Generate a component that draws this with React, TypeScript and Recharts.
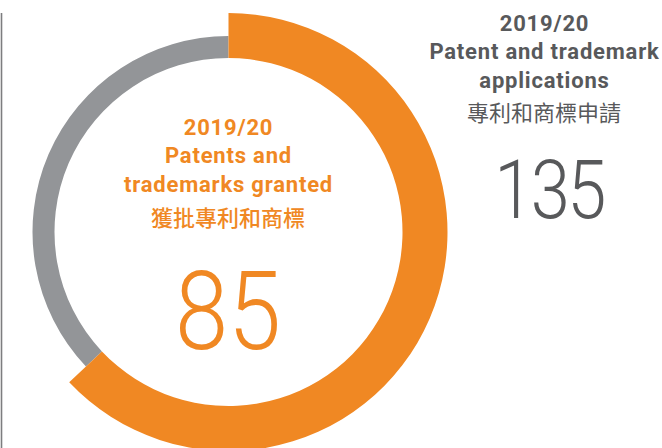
import { PieChart, Pie, Cell } from 'recharts';

const granted = 85;
const applications = 135;
const segmentNames = ['Granted', 'Not granted'];
const segmentValues = [granted, applications - granted];

const grantedLines = ['2019/20', 'Patents and', 'trademarks granted'];
const grantedZh = '獲批專利和商標';
const appLines = ['2019/20', 'Patent and trademark', 'applications'];
const appZh = '專利和商標申請';

const ORANGE = '#F08823';
const GREY = '#939598';
const TEXT_GREY = '#58595B';

const data = segmentNames.map((name, i) => ({ name, value: segmentValues[i] }));

const W = 662;
const H = 448;
const CX = 228.5;
const CY = 232;

export default function App() {
  return (
    <div style={{ position: 'absolute', left: 0, top: 0, width: W, height: H, background: '#fff' }}>
      <PieChart width={W} height={H} margin={{ top: 0, right: 0, bottom: 0, left: 0 }}>
        <Pie
          data={data}
          dataKey="value"
          cx={CX}
          cy={CY}
          innerRadius={174}
          outerRadius={196}
          startAngle={90}
          endAngle={-270}
          stroke="none"
          isAnimationActive={false}
        >
          <Cell fill="transparent" />
          <Cell fill={GREY} />
        </Pie>
        <Pie
          data={data}
          dataKey="value"
          cx={CX}
          cy={CY}
          innerRadius={174}
          outerRadius={219}
          startAngle={90}
          endAngle={-270}
          stroke="none"
          isAnimationActive={false}
        >
          <Cell fill={ORANGE} />
          <Cell fill="transparent" />
        </Pie>
      </PieChart>
      <svg width={W} height={H} style={{ position: 'absolute', left: 0, top: 0, pointerEvents: 'none' }}>
        <line x1={1.5} y1={13} x2={1.5} y2={H} stroke="#7d7d7f" strokeWidth={1.6} />
        <g fill={ORANGE} textAnchor="middle" fontFamily="Roboto, sans-serif" fontWeight={700} fontSize={22} letterSpacing={0.8}>
          {grantedLines.map((t, i) => (
            <text key={t} x={228.5} y={135 + i * 28.3}>{t}</text>
          ))}
        </g>
        <text x={228} y={226} fill={ORANGE} textAnchor="middle" fontFamily="'Noto Sans CJK TC', sans-serif" fontWeight={500} fontSize={22}>{grantedZh}</text>
        <text transform="translate(228,349) scale(0.87,1)" x={0} y={0} fill={ORANGE} textAnchor="middle" fontFamily="Roboto, sans-serif" fontWeight={300} fontSize={110}>{granted}</text>

        <g fill={TEXT_GREY} textAnchor="middle" fontFamily="Roboto, sans-serif" fontWeight={700} fontSize={22} letterSpacing={0.8}>
          {appLines.map((t, i) => (
            <text key={t} x={544.5} y={31 + i * 28.3}>{t}</text>
          ))}
        </g>
        <text x={544} y={121} fill={TEXT_GREY} textAnchor="middle" fontFamily="'Noto Sans CJK TC', sans-serif" fontWeight={400} fontSize={22}>{appZh}</text>
        <text transform="translate(549,218) scale(0.86,1)" x={0} y={0} fill={TEXT_GREY} textAnchor="middle" letterSpacing={-3} fontFamily="Roboto, sans-serif" fontWeight={300} fontSize={82}>{applications}</text>
      </svg>
    </div>
  );
}
